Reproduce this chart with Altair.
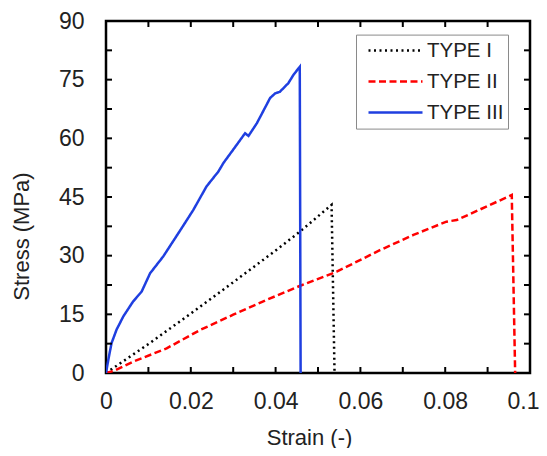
import altair as alt
import pandas as pd

series = ["TYPE I", "TYPE II", "TYPE III"]
colors = ["#000000", "#FF0000", "#1F3FE0"]
dashes = [[2, 3.5], [7, 3.5], [1, 0]]

type1_strain = [0, 0.01, 0.02, 0.03, 0.04, 0.0458, 0.0532, 0.0539]
type1_stress = [0, 7.4, 15.2, 23.2, 31.3, 36.2, 43.0, 0]

type2_strain = [0, 0.002, 0.0064, 0.0143, 0.0222, 0.030, 0.0379, 0.0458, 0.0544,
                0.0646, 0.0725, 0.0803, 0.0827, 0.0957, 0.0965]
type2_stress = [0, 0.6, 2.9, 6.3, 11.0, 14.9, 18.7, 22.3, 25.9,
                31.4, 35.3, 38.7, 39.1, 45.5, 0]

type3_strain = [0, 0.00055, 0.0013, 0.0025, 0.0041, 0.0064, 0.0084, 0.0104, 0.0135,
                0.0177, 0.0206, 0.0237, 0.0265, 0.0277, 0.0308, 0.0328, 0.0336,
                0.0356, 0.0387, 0.0399, 0.0410, 0.0430, 0.0442, 0.0454, 0.0457, 0.0459]
type3_stress = [0, 3.4, 7.6, 11.1, 14.5, 18.3, 20.8, 25.5, 29.8,
                36.8, 41.7, 47.7, 51.5, 53.7, 58.3, 61.3, 60.6,
                63.9, 70.3, 71.5, 71.9, 74.1, 76.2, 77.9, 78.3, 0]

x_labels = [0, 0.02, 0.04, 0.06, 0.08, 0.1]
y_labels = [0, 15, 30, 45, 60, 75, 90]
x_ticks = [0.01, 0.02, 0.03, 0.04, 0.05, 0.06, 0.07, 0.08, 0.09]
y_ticks = [7.5, 15, 22.5, 30, 37.5, 45, 52.5, 60, 67.5, 75, 82.5]

rows = []
for name, xs, ys in [("TYPE I", type1_strain, type1_stress),
                     ("TYPE II", type2_strain, type2_stress),
                     ("TYPE III", type3_strain, type3_stress)]:
    for i, (x, y) in enumerate(zip(xs, ys)):
        rows.append({"type": name, "strain": x, "stress": y, "order": i})
df = pd.DataFrame(rows)

W, H = 424, 352
TICK = 6
FONT = "Liberation Sans"
TXT = "#222222"

legend = alt.Legend(
    title=None, orient="none", legendX=250, legendY=13.6,
    fillColor="white", strokeColor="#8a8a8a", padding=4, cornerRadius=0,
    symbolType="stroke", symbolSize=2916, symbolStrokeWidth=2.5,
    symbolOffset=7, labelOffset=3, labelFontSize=20.5, labelFont=FONT,
    labelColor=TXT, clipHeight=24, rowPadding=7,
)

lines = alt.Chart(df).mark_line(strokeWidth=2.5, clip=True).encode(
    x=alt.X("strain:Q",
            scale=alt.Scale(domain=[0, 0.1], nice=False, zero=False),
            axis=alt.Axis(values=x_labels, labelExpr="format(datum.value, '~g')",
                          title="Strain (-)", labelPadding=17, labelFlush=False,
                          labelOffset=alt.ConditionalAxisNumber(
                              condition={"test": "datum.value >= 0.099", "value": -7},
                              value=0),
                          titleX=203, titleY=71, titleBaseline="alphabetic")),
    y=alt.Y("stress:Q",
            scale=alt.Scale(domain=[0, 90], nice=False),
            axis=alt.Axis(values=y_labels, format="d", title="Stress (MPa)",
                          labelPadding=22, titleX=-78, titleY=215,
                          titleAlign="center", titleBaseline="alphabetic",
                          titleAngle=270)),
    color=alt.Color("type:N", scale=alt.Scale(domain=series, range=colors), legend=legend),
    strokeDash=alt.StrokeDash("type:N", scale=alt.Scale(domain=series, range=dashes), legend=legend),
    order="order:Q",
)

xt = pd.DataFrame({"v": x_ticks})
yt = pd.DataFrame({"v": y_ticks})

tick_style = dict(color="black", strokeWidth=2)
bottom = alt.Chart(xt).mark_rule(**tick_style).encode(
    x=alt.X("v:Q"), y=alt.value(H), y2=alt.value(H - TICK))
top = alt.Chart(xt).mark_rule(**tick_style).encode(
    x=alt.X("v:Q"), y=alt.value(0), y2=alt.value(TICK))
left = alt.Chart(yt).mark_rule(**tick_style).encode(
    y=alt.Y("v:Q"), x=alt.value(0), x2=alt.value(TICK))
right = alt.Chart(yt).mark_rule(**tick_style).encode(
    y=alt.Y("v:Q"), x=alt.value(W), x2=alt.value(W - TICK))

chart = alt.layer(lines, bottom, top, left, right).properties(
    width=W, height=H,
    autosize=alt.AutoSizeParams(type="none"),
    padding={"left": 98, "top": 13, "right": 9, "bottom": 75},
).configure_view(
    stroke="black", strokeWidth=2.5
).configure_axis(
    ticks=False, tickSize=0, domain=False, grid=False,
    labelFont=FONT, labelFontSize=23, labelColor=TXT,
    titleFont=FONT, titleFontSize=22, titleColor=TXT, titleFontWeight="normal",
)

chart.save("out.html", embed_options={"renderer": "svg", "actions": False})
